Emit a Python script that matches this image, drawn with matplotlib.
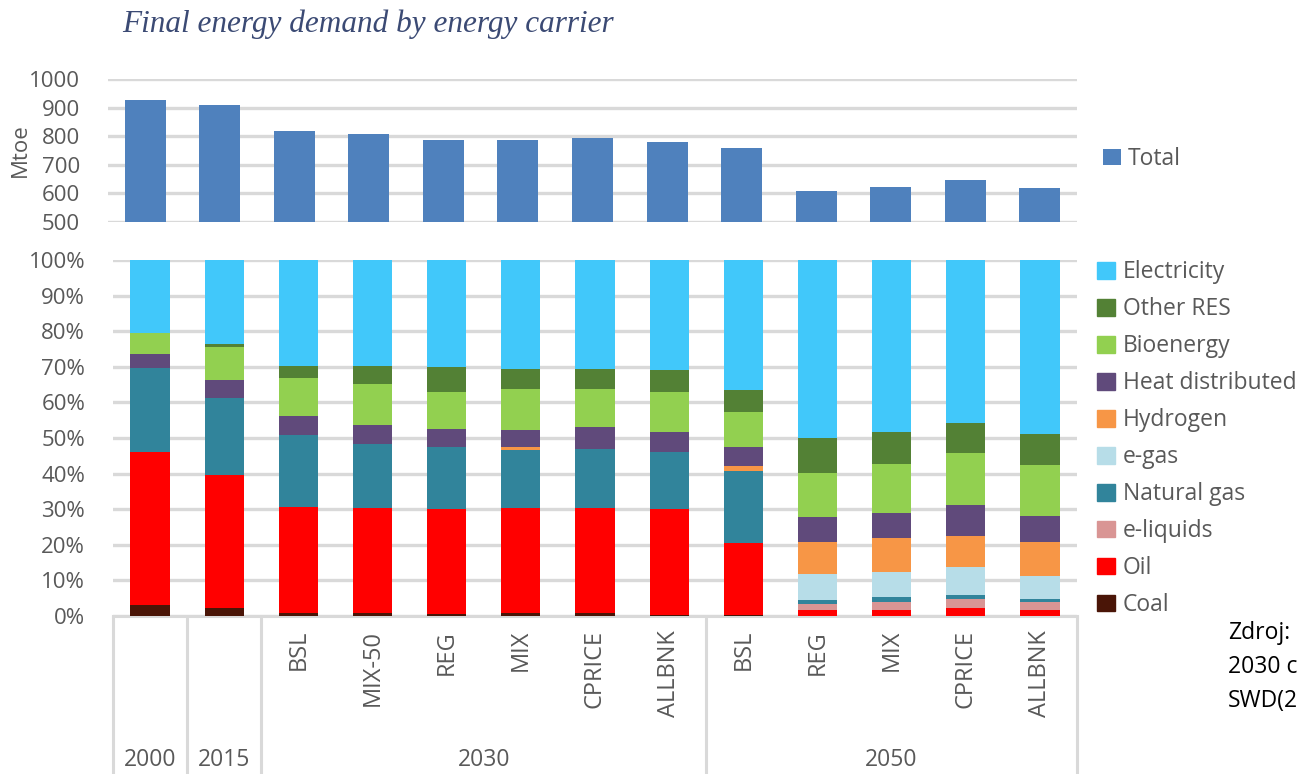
import matplotlib
matplotlib.use("Agg")
import matplotlib.pyplot as plt
import matplotlib.patches as mpatches
import matplotlib.transforms as mtransforms
import numpy as np

# ---------------- data ----------------
years = ["2000", "2015", "2030", "2050"]
scenarios = ["", "", "BSL", "MIX-50", "REG", "MIX", "CPRICE", "ALLBNK",
             "BSL", "REG", "MIX", "CPRICE", "ALLBNK"]
group_of_bar = [0, 1, 2, 2, 2, 2, 2, 2, 3, 3, 3, 3, 3]

total = [927, 910, 819, 806, 785, 785, 792, 781, 760, 608, 621, 646, 618]

coal        = [3.1, 2.2, 0.75, 0.75, 0.65, 0.75, 0.75, 0.4, 0.3, 0.0, 0.0, 0.0, 0.0]
oil         = [42.9, 37.4, 30.0, 29.5, 29.4, 29.5, 29.5, 29.6, 20.1, 1.6, 1.6, 2.2, 1.6]
e_liquids   = [0, 0, 0, 0, 0, 0, 0, 0, 0, 1.7, 2.2, 2.5, 2.3]
natural_gas = [23.8, 21.6, 20.1, 18.1, 17.4, 16.5, 16.6, 16.0, 20.4, 1.2, 1.4, 1.2, 0.8]
e_gas       = [0, 0, 0, 0, 0, 0, 0, 0, 0, 7.2, 7.3, 7.9, 6.6]
hydrogen    = [0, 0, 0, 0, 0, 0.6, 0, 0, 1.4, 9.2, 9.4, 8.7, 9.5]
heat        = [3.9, 5.2, 5.2, 5.4, 5.1, 5.0, 6.2, 5.6, 5.4, 6.8, 7.1, 8.7, 7.3]
bioenergy   = [5.8, 9.2, 10.8, 11.5, 10.5, 11.4, 10.7, 11.4, 9.7, 12.4, 13.7, 14.5, 14.2]
other_res   = [0.0, 0.7, 3.4, 5.0, 7.0, 5.7, 5.7, 6.0, 6.1, 9.9, 8.9, 8.5, 8.9]
electricity = [20.5, 23.7, 29.7, 29.7, 30.0, 30.5, 30.5, 31.0, 36.6, 50.0, 48.4, 45.8, 48.8]

carrier_names = ["Coal", "Oil", "e-liquids", "Natural gas", "e-gas", "Hydrogen",
                 "Heat distributed", "Bioenergy", "Other RES", "Electricity"]
carrier_values = [coal, oil, e_liquids, natural_gas, e_gas, hydrogen,
                  heat, bioenergy, other_res, electricity]
carrier_colors = ["#4a1507", "#ff0000", "#d99594", "#31849b", "#b7dde8", "#f79646",
                  "#604a7b", "#92d050", "#538135", "#41c8fa"]

# ---------------- style ----------------
W, H = 1305, 774
FONT = "Open Sans"
TXT = "#595959"
GRID = "#d9d9d9"
plt.rcParams["font.family"] = [FONT, "DejaVu Sans"]

fig = plt.figure(figsize=(W / 100, H / 100), dpi=100)

def fx(px):
    return px / W

def fy(py):
    return 1 - py / H

x = np.arange(len(total))

# ---------------- top panel: totals ----------------
ax_t = fig.add_axes([fx(108), fy(222), fx(1077) - fx(108), fy(79) - fy(222)])
ax_t.bar(x, total, width=0.55, color="#4f81bd", zorder=3, label="Total")
ax_t.set_ylim(500, 1000)
ax_t.set_xlim(-0.5, len(total) - 0.5)
ax_t.set_yticks(np.arange(500, 1001, 100))
ax_t.yaxis.grid(True, color=GRID, linewidth=2.4, zorder=0)
ax_t.set_axisbelow(True)
ax_t.set_xticks([])
for s in ax_t.spines.values():
    s.set_visible(False)
ax_t.tick_params(axis="y", length=0, pad=20, labelsize=16, labelcolor=TXT)
ax_t.set_ylabel("Mtoe", fontsize=16, color=TXT, labelpad=2)
ax_t.yaxis.set_label_coords(-0.08, 0.5)
ax_t.legend(loc="center left", bbox_to_anchor=(fx(1092), fy(159)),
            bbox_transform=fig.transFigure, frameon=False, fontsize=16.5,
            handlelength=0.75, handleheight=0.75, handletextpad=0.3,
            borderpad=0, labelcolor=TXT)

# ---------------- bottom panel: shares ----------------
ax_b = fig.add_axes([fx(113), fy(616), fx(1077) - fx(113), fy(260) - fy(616)])
bottom = np.zeros(len(total))
handles = []
for name, vals, col in zip(carrier_names, carrier_values, carrier_colors):
    v = np.array(vals, dtype=float)
    ax_b.bar(x, v, width=0.53, bottom=bottom, color=col, zorder=3)
    bottom += v
    handles.append(mpatches.Patch(color=col, label=name))

ax_b.set_ylim(0, 100)
ax_b.set_xlim(-0.5, len(total) - 0.5)
ax_b.set_yticks(np.arange(0, 101, 10))
ax_b.set_yticklabels([f"{v}%" for v in range(0, 101, 10)])
ax_b.yaxis.grid(True, color=GRID, linewidth=2.4, zorder=0)
ax_b.set_axisbelow(True)
for s in ax_b.spines.values():
    s.set_visible(False)
ax_b.tick_params(axis="y", length=0, pad=20, labelsize=16, labelcolor=TXT)
ax_b.set_xticks([])

leg = ax_b.legend(handles=handles[::-1], loc="upper left",
                  bbox_to_anchor=(fx(1086), fy(249)), bbox_transform=fig.transFigure,
                  frameon=False, fontsize=16.5, handlelength=0.75, handleheight=0.75,
                  handletextpad=0.35, labelspacing=0.565, borderpad=0,
                  labelcolor=TXT)

# multi-level category axis
trans = mtransforms.blended_transform_factory(ax_b.transData, ax_b.transAxes)
y_bottom = (616 - 774) / (616 - 260)
bounds = [-0.5, 0.5, 1.5, 7.5, len(total) - 0.5]
for b in bounds:
    ax_b.plot([b, b], [0, y_bottom], transform=trans, color=GRID, lw=2.2,
              clip_on=False, solid_capstyle="butt")
ax_b.plot([-0.5, len(total) - 0.5], [0, 0], transform=trans, color=GRID, lw=2.2,
          clip_on=False)

y_scen = (616 - 630) / (616 - 260)
for i, lab in enumerate(scenarios):
    if lab:
        ax_b.text(i, y_scen, lab, transform=trans, rotation=90, ha="center", va="top",
                  fontsize=17, color=TXT)

y_year = (616 - 760) / (616 - 260)
for g, yr in enumerate(years):
    idx = [i for i, gg in enumerate(group_of_bar) if gg == g]
    xc = (min(idx) + max(idx)) / 2
    ax_b.text(xc, y_year, yr, transform=trans, ha="center", va="center",
              fontsize=16.5, color=TXT)

# title
fig.text(fx(122), fy(24), "Final energy demand by energy carrier",
         family="Liberation Serif", style="italic", fontsize=22.5,
         color="#3b4a74", ha="left", va="center")

# source note (clipped at the edge in the original)
for k, line in enumerate(["Zdroj:", "2030 c", "SWD(2"]):
    fig.text(fx(1228), fy(633 + 34 * k), line, fontsize=16.5, color="black",
             ha="left", va="center")

fig.savefig("out.png", dpi=100)
